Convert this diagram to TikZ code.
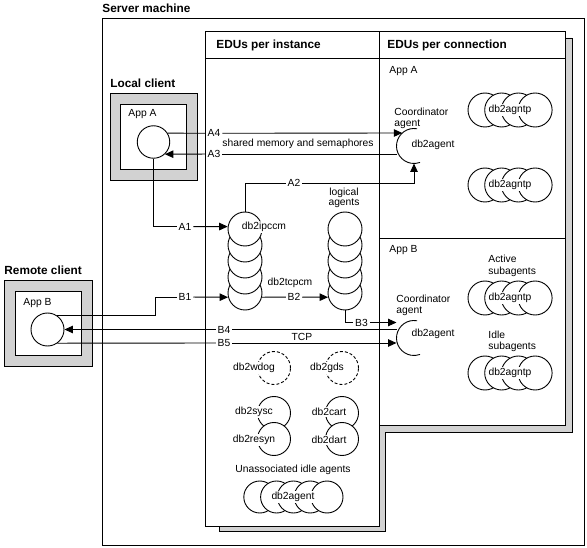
\documentclass[tikz,border=0pt]{standalone}
\usepackage{fontspec}
\setmainfont{Liberation Sans}
\usetikzlibrary{arrows.meta}

\tikzset{
 txt/.style={inner sep=1pt},
 hdr/.style={font=\fontsize{11.8}{13}\selectfont\bfseries, inner sep=0pt, anchor=west},
 lbl/.style={inner sep=1.5pt},
 agt/.style={circle, draw, fill=white, minimum size=34pt, inner sep=0pt},
 dmn/.style={circle, draw, fill=white, minimum size=33pt, inner sep=0pt},
 dsh/.style={dmn, dash pattern=on 3pt off 2pt},
 crd/.style={circle, minimum size=35pt, inner sep=0pt, outer sep=0pt},
 arr/.style={-{Triangle[length=8.5pt,width=7.5pt]}}
}

\begin{document}
\begin{tikzpicture}[x=1pt, y=-1pt, line width=0.9pt, font=\fontsize{10.3}{10.5}\selectfont]
\useasboundingbox (0,0) rectangle (587,548);

\node[hdr] (srv) at (102,8) {Server machine};
\draw (102,18) rectangle (584.5,545);

\draw[fill=gray!35] (219,38) -- (572,38) -- (572,432) -- (385,432) -- (385,531) -- (219,531) -- cycle;
\draw[fill=white] (205,31) rectangle (379,526);
\draw[fill=white] (379,31) rectangle (565,425);
\draw (205,58) -- (565,58);
\draw (379,238) -- (565,238);
\node[hdr] (hinst) at (216,45.5) {EDUs per instance};
\node[hdr] (hconn) at (387,45.5) {EDUs per connection};
\node[txt, anchor=west] (cA) at (388,71) {App A};
\node[txt, anchor=west] (cB) at (388,250) {App B};

\node[hdr] (hloc) at (110,83) {Local client};
\draw[fill=gray!35] (110,93) rectangle (197,180);
\draw[fill=white] (120,104) rectangle (186,169);
\node[txt, anchor=west] (tappA) at (127,114.5) {App A};
\node[circle, draw, minimum size=32.5pt, inner sep=0pt] (appA) at (153.5,142) {};

\node[hdr] (hrem) at (4,270) {Remote client};
\draw[fill=gray!35] (4,280) rectangle (92,366);
\draw[fill=white] (15,291) rectangle (81,355);
\node[txt, anchor=west] (tappB) at (22,303) {App B};
\node[circle, draw, minimum size=33pt, inner sep=0pt] (appB) at (47.5,329.5) {};

\foreach \i in {5,4,...,1} {
 \node[agt] (ipc\i) at (245,213+16*\i) {};
 \node[agt] (log\i) at (345,213+16*\i) {};
};
\node[txt, fill=white] (tipc) at (264,227) {db2ipccm};
\node[txt] (ttcp) at (290,283) {db2tcpcm};
\node[txt, align=center] (tlog) at (344,198) {logical\\agents};

\node[crd] (dbA) at (414,146) {};
\draw (dbA.80) arc[start angle=80, end angle=290, radius=17.5pt];
\node[txt] (tdbA) at (433,145) {db2agent};
\node[txt, anchor=west, align=left] (coA) at (393,118.5) {Coordinator\\agent};

\node[crd] (dbB) at (414,338) {};
\draw (dbB.80) arc[start angle=80, end angle=290, radius=17.5pt];
\node[txt] (tdbB) at (433,334) {db2agent};
\node[txt, anchor=west, align=left] (coB) at (395,305.5) {Coordinator\\agent};

\foreach \i in {1,...,4} {
 \node[agt] (pa\i) at (468.3+16.7*\i,110) {};
 \node[agt] (pb\i) at (468.3+16.7*\i,185) {};
 \node[agt] (pc\i) at (468.3+16.7*\i,298) {};
 \node[agt] (pd\i) at (468.3+16.7*\i,373) {};
};
\node[txt, fill=white] (tpa) at (510,110) {db2agntp};
\node[txt, fill=white] (tpb) at (510,185) {db2agntp};
\node[txt, fill=white] (tpc) at (510,298) {db2agntp};
\node[txt, fill=white] (tpd) at (510,373) {db2agntp};
\node[txt, anchor=west, align=left, font=\fontsize{10.3}{12}\selectfont] (tact) at (487,265.5) {Active\\subagents};
\node[txt, anchor=west, align=left, font=\fontsize{10.3}{11}\selectfont] (tidl) at (487,341.5) {Idle\\subagents};

\node[dsh] (wdog) at (274,368) {};
\node[txt, fill=white] (twdog) at (254,368) {db2wdog};
\node[dsh] (gds) at (342,368) {};
\node[txt, fill=white] (tgds) at (327,368) {db2gds};
\node[dmn] (sysc) at (274,413) {};
\node[txt, fill=white] (tsysc) at (254,412) {db2sysc};
\node[dmn] (resyn) at (274,439) {};
\node[txt, fill=white] (tresyn) at (254,440) {db2resyn};
\node[dmn] (cart) at (342,413) {};
\node[txt, fill=white] (tcart) at (329,412) {db2cart};
\node[dmn] (dart) at (342,439) {};
\node[txt, fill=white] (tdart) at (329,440) {db2dart};

\node[txt] (tun) at (293,470) {Unassociated idle agents};
\foreach \i in {1,...,5} {
 \node[dmn, minimum size=32pt] (ua\i) at (243+16.8*\i,497) {};
};
\node[txt, fill=white] (tua) at (293,497) {db2agent};

\node[lbl] (lA4) at (214,133.3) {A4};
\node[lbl] (lA3) at (214,154) {A3};
\node[lbl] (lA2) at (294,183) {A2};
\node[lbl] (lA1) at (185,226.6) {A1};
\node[lbl] (lB1) at (185,297) {B1};
\node[lbl] (lB2) at (294,297) {B2};
\node[lbl] (lB3) at (361.5,322.5) {B3};
\node[lbl] (lB4) at (224,329.5) {B4};
\node[lbl] (lB5) at (224,343) {B5};
\node[txt] (shm) at (298,144) {shared memory and semaphores};
\node[txt] (tcp) at (302,337) {TCP};

\draw (appA.32) -- (lA4);
\draw[arr] (lA4) -- (dbA.132);
\draw (dbA.west |- lA3) -- (lA3);
\draw[arr] (lA3) -- (appA.-47);
\draw (appA.south) |- (lA1);
\draw[arr] (lA1) -- (ipc1.172);
\draw (ipc1.north) |- (lA2);
\draw[arr] (lA2) -| (dbA.south);
\draw (appB.54) -- ++(98,0) |- (lB1);
\draw[arr] (lB1) -- (ipc5.194);
\draw (ipc5.-14) -- (lB2);
\draw[arr] (lB2) -- (log5.194);
\draw (log5.south) |- (lB3);
\draw[arr] (lB3) -- (dbB.west |- lB3);
\draw (dbB.west |- lB4) -- (lB4);
\draw[arr] (lB4) -- (appB.east);
\draw (appB.-54) -- (lB5);
\draw[arr] (lB5) -- (dbB.west |- lB5);

\end{tikzpicture}
\end{document}
